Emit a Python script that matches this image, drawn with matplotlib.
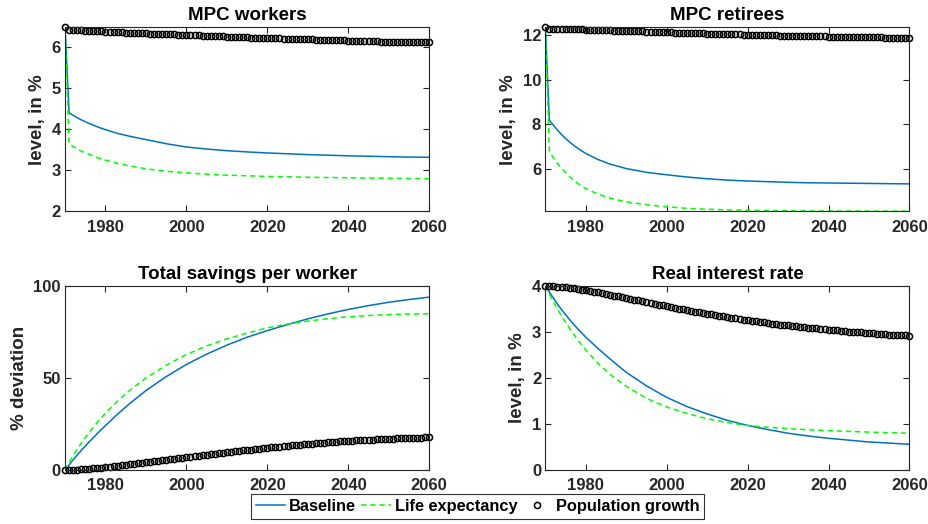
import numpy as np
import matplotlib
matplotlib.use("Agg")
import matplotlib.pyplot as plt

# yearly grid for the population growth markers, coarser grid for the smooth lines
years = np.arange(1970, 2061)
line_years = [1970, 1971, 1972, 1973, 1974, 1976, 1978, 1980, 1983, 1986, 1990, 1995,
              2000, 2005, 2010, 2015, 2020, 2025, 2030, 2035, 2040, 2045, 2050, 2055, 2060]

titles = ["MPC workers", "MPC retirees", "Total savings per worker", "Real interest rate"]
ylabels = ["level, in %", "level, in %", "% deviation", "level, in %"]
xticks = [1980, 2000, 2020, 2040, 2060]
yticks = [[2, 3, 4, 5, 6], [6, 8, 10, 12], [0, 50, 100], [0, 1, 2, 3, 4]]
series_names = ["Baseline", "Life expectancy", "Population growth"]

# MPC workers
mpcw_base = [6.47, 4.39, 4.33, 4.27, 4.22, 4.13, 4.05, 3.98, 3.89, 3.82, 3.74, 3.64,
             3.56, 3.51, 3.47, 3.44, 3.415, 3.395, 3.375, 3.36, 3.345, 3.335, 3.325, 3.315, 3.31]
mpcw_life = [6.47, 3.64, 3.57, 3.51, 3.46, 3.38, 3.30, 3.24, 3.16, 3.10, 3.03, 2.97,
             2.93, 2.90, 2.875, 2.86, 2.845, 2.835, 2.825, 2.818, 2.812, 2.805, 2.80, 2.795, 2.79]
mpcw_pop = [6.470, 6.410, 6.405, 6.400, 6.395, 6.390, 6.385, 6.380, 6.375, 6.370,
            6.365, 6.360, 6.355, 6.350, 6.346, 6.342, 6.338, 6.334, 6.330, 6.326,
            6.322, 6.318, 6.314, 6.310, 6.306, 6.302, 6.298, 6.294, 6.290, 6.286,
            6.282, 6.278, 6.274, 6.270, 6.266, 6.262, 6.258, 6.254, 6.250, 6.246,
            6.242, 6.238, 6.234, 6.230, 6.226, 6.222, 6.218, 6.215, 6.212, 6.209,
            6.206, 6.203, 6.200, 6.197, 6.194, 6.191, 6.188, 6.185, 6.182, 6.179,
            6.176, 6.173, 6.170, 6.167, 6.164, 6.161, 6.158, 6.155, 6.152, 6.149,
            6.146, 6.143, 6.140, 6.137, 6.134, 6.131, 6.128, 6.125, 6.122, 6.120,
            6.118, 6.116, 6.114, 6.112, 6.110, 6.108, 6.106, 6.104, 6.102, 6.101,
            6.100]

# MPC retirees
mpcr_base = [12.36, 8.18, 7.95, 7.73, 7.53, 7.19, 6.91, 6.68, 6.41, 6.20, 6.00, 5.83,
             5.72, 5.62, 5.54, 5.48, 5.44, 5.41, 5.38, 5.36, 5.35, 5.34, 5.33, 5.32, 5.31]
mpcr_life = [12.36, 6.75, 6.48, 6.23, 6.01, 5.63, 5.33, 5.10, 4.85, 4.67, 4.50, 4.37,
             4.28, 4.21, 4.17, 4.14, 4.12, 4.11, 4.10, 4.095, 4.09, 4.088, 4.086, 4.084, 4.082]
mpcr_pop = [12.360, 12.300, 12.295, 12.290, 12.285, 12.280, 12.275, 12.270, 12.265, 12.260,
            12.255, 12.249, 12.243, 12.237, 12.231, 12.225, 12.219, 12.213, 12.207, 12.201,
            12.195, 12.189, 12.183, 12.177, 12.171, 12.165, 12.159, 12.153, 12.147, 12.141,
            12.135, 12.129, 12.123, 12.117, 12.111, 12.105, 12.099, 12.093, 12.087, 12.081,
            12.075, 12.070, 12.065, 12.060, 12.055, 12.050, 12.045, 12.040, 12.035, 12.030,
            12.025, 12.020, 12.015, 12.010, 12.005, 12.000, 11.996, 11.992, 11.988, 11.984,
            11.980, 11.976, 11.972, 11.968, 11.964, 11.960, 11.956, 11.952, 11.948, 11.944,
            11.940, 11.937, 11.934, 11.931, 11.928, 11.925, 11.922, 11.919, 11.916, 11.913,
            11.910, 11.907, 11.904, 11.901, 11.898, 11.895, 11.892, 11.889, 11.886, 11.883,
            11.880]

# total savings per worker
sav_base = [0.0, 2.8, 5.5, 8.1, 10.6, 15.4, 19.9, 24.2, 30.4, 36.2, 43.2, 50.8,
            57.4, 63.0, 67.9, 72.2, 75.8, 79.1, 82.2, 84.9, 87.3, 89.4, 91.2, 92.7, 94.0]
sav_life = [0.0, 4.0, 7.8, 11.3, 14.6, 20.6, 26.0, 31.0, 37.6, 43.4, 50.0, 57.0,
            62.8, 67.5, 71.3, 74.5, 77.3, 79.4, 81.0, 82.3, 83.3, 84.0, 84.5, 84.8, 85.0]
sav_pop = [0.00, 0.05, 0.12, 0.22, 0.35, 0.50, 0.68, 0.88, 1.10, 1.34,
           1.60, 1.86, 2.12, 2.38, 2.65, 2.92, 3.20, 3.48, 3.76, 4.03,
           4.30, 4.58, 4.86, 5.14, 5.42, 5.70, 5.98, 6.24, 6.51, 6.78,
           7.05, 7.32, 7.59, 7.85, 8.11, 8.37, 8.63, 8.89, 9.14, 9.40,
           9.65, 9.90, 10.15, 10.40, 10.64, 10.88, 11.12, 11.36, 11.60, 11.85,
           12.10, 12.32, 12.54, 12.75, 12.96, 13.17, 13.38, 13.58, 13.78, 13.98,
           14.18, 14.37, 14.55, 14.73, 14.90, 15.07, 15.23, 15.38, 15.53, 15.67,
           15.81, 15.94, 16.07, 16.19, 16.31, 16.43, 16.54, 16.65, 16.76, 16.86,
           16.96, 17.06, 17.15, 17.24, 17.33, 17.42, 17.50, 17.58, 17.66, 17.73,
           17.80]

# real interest rate
r_base = [4.00, 3.87, 3.74, 3.61, 3.49, 3.27, 3.07, 2.89, 2.645, 2.415, 2.125, 1.83,
          1.58, 1.38, 1.22, 1.08, 0.97, 0.88, 0.80, 0.74, 0.69, 0.65, 0.61, 0.585, 0.56]
r_life = [4.00, 3.82, 3.66, 3.50, 3.35, 3.08, 2.83, 2.61, 2.32, 2.08, 1.82, 1.56,
          1.37, 1.23, 1.115, 1.03, 0.97, 0.93, 0.90, 0.875, 0.855, 0.84, 0.825, 0.812, 0.80]
r_pop = [4.000, 3.998, 3.994, 3.988, 3.980, 3.971, 3.961, 3.949, 3.936, 3.922,
         3.908, 3.893, 3.877, 3.861, 3.845, 3.828, 3.811, 3.794, 3.777, 3.760,
         3.742, 3.724, 3.706, 3.688, 3.670, 3.652, 3.634, 3.616, 3.598, 3.580,
         3.563, 3.546, 3.529, 3.512, 3.495, 3.478, 3.462, 3.446, 3.430, 3.414,
         3.399, 3.384, 3.369, 3.354, 3.339, 3.325, 3.311, 3.297, 3.284, 3.271,
         3.258, 3.245, 3.233, 3.221, 3.209, 3.197, 3.186, 3.175, 3.164, 3.154,
         3.144, 3.134, 3.124, 3.115, 3.106, 3.097, 3.088, 3.079, 3.070, 3.061,
         3.052, 3.044, 3.036, 3.028, 3.020, 3.012, 3.005, 2.998, 2.991, 2.984,
         2.977, 2.971, 2.965, 2.959, 2.953, 2.947, 2.942, 2.937, 2.932, 2.927,
         2.922]

base_all = [mpcw_base, mpcr_base, sav_base, r_base]
life_all = [mpcw_life, mpcr_life, sav_life, r_life]
pop_all = [mpcw_pop, mpcr_pop, sav_pop, r_pop]

plt.rcParams['font.family'] = ['Liberation Sans', 'DejaVu Sans']
plt.rcParams['font.weight'] = 'bold'

fig = plt.figure(figsize=(9.29, 5.24), dpi=100)
dark = '#262626'

# axes boxes (left, bottom, width, height)
positions = [(0.070, 0.597, 0.392, 0.351), (0.587, 0.597, 0.392, 0.351),
             (0.070, 0.103, 0.392, 0.351), (0.587, 0.103, 0.392, 0.351)]

handles = None
for i in range(4):
    ax = fig.add_axes(positions[i])
    h1, = ax.plot(line_years, base_all[i], color='#0072BD', lw=1.1)
    h2, = ax.plot(line_years, life_all[i], color='#00FF00', lw=1.1, ls=(0, (3.5, 2.5)))
    h3, = ax.plot(years, pop_all[i], ls='none', marker='o', ms=4.4, mfc='none',
                  mec='k', mew=1.15, clip_on=False)
    if handles is None:
        handles = [h1, h2, h3]

    ax.set_xlim(1970, 2060)
    if i == 0:
        ax.set_ylim(2, max(mpcw_pop))
    elif i == 1:
        ax.set_ylim(min(mpcr_life), max(mpcr_pop))
    elif i == 2:
        ax.set_ylim(0, 100)
    else:
        ax.set_ylim(0, 4)
    ax.set_xticks(xticks)
    ax.set_yticks(yticks[i])

    ax.set_title(titles[i], fontsize=13.5, fontweight='bold', color='k', pad=5)
    ax.set_ylabel(ylabels[i], fontsize=13.5, fontweight='bold', color=dark, labelpad=4)
    ax.tick_params(direction='in', length=4, width=0.8, colors=dark, labelsize=12,
                   top=True, right=True)
    ax.tick_params(axis='x', pad=6)
    ax.tick_params(axis='y', pad=3)
    for s in ax.spines.values():
        s.set_color(dark)
        s.set_linewidth(0.8)

leg = fig.legend(handles, series_names, loc='center', bbox_to_anchor=(0.514, 0.034),
                 ncol=3, fontsize=11.8, frameon=True, fancybox=False,
                 edgecolor='k', handlelength=1.8, handletextpad=0.25,
                 columnspacing=0.3, borderpad=0.3, borderaxespad=0)
leg.get_frame().set_linewidth(0.8)
for t in leg.get_texts():
    t.set_fontweight('bold')

plt.savefig('out.png', dpi=100)
plt.close()
